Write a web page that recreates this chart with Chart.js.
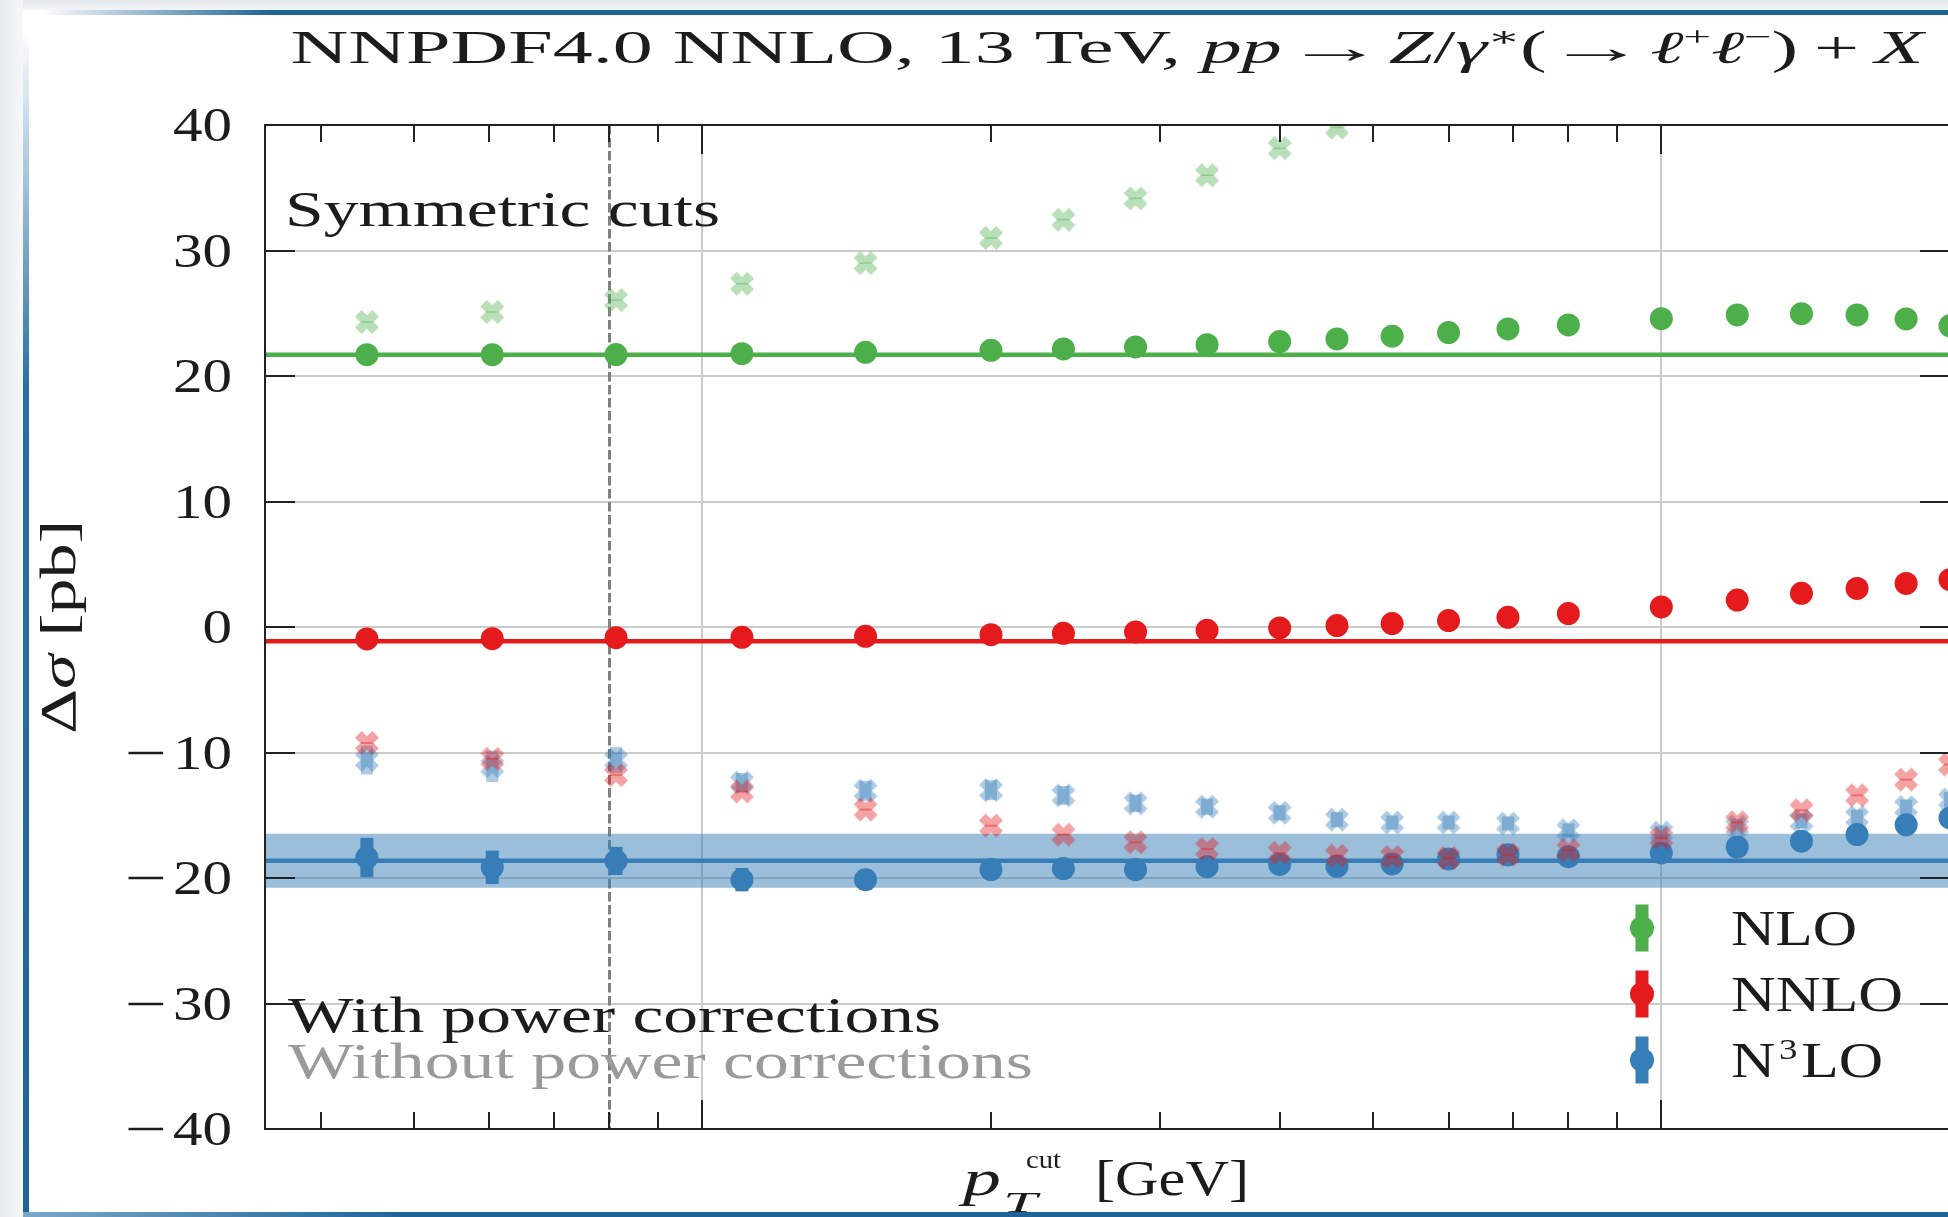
<!DOCTYPE html>
<html><head><meta charset="utf-8">
<script src="https://cdn.jsdelivr.net/npm/chart.js@4.4.1/dist/chart.umd.min.js"></script>
<style>
html,body{margin:0;padding:0;width:1948px;height:1217px;overflow:hidden;background:#fff;}
.deco{position:absolute;}
</style></head><body>
<div class="deco" style="left:0;top:0;width:1948px;height:10px;background:linear-gradient(#e3e8ec,#f3f5f7)"></div>
<div class="deco" style="left:0;top:0;width:23px;height:1217px;background:linear-gradient(to right,#e6eaee,#f6f7f8)"></div>
<div class="deco" style="left:40px;top:10px;width:1908px;height:5px;background:linear-gradient(to right,rgba(31,100,150,0),#1f6496 12%,#1f6496)"></div>
<div class="deco" style="left:23px;top:30px;width:6px;height:1187px;background:linear-gradient(to bottom,rgba(31,100,150,0),#2a6fa3 30%,#1f6496)"></div>
<div class="deco" style="left:23px;top:1212px;width:1925px;height:5px;background:linear-gradient(to right,#7aa7c9,#1f6496 20%,#1f6496)"></div>
<canvas id="c" width="1970" height="1217" style="position:absolute;left:0;top:0"></canvas>
<script>
// ---------------- data ----------------
const X_PT = [0.447, 0.604, 0.813, 1.10, 1.48, 2.00, 2.38, 2.83, 3.36, 4.00, 4.59, 5.24, 6.00, 6.92, 8.00, 10.0, 12.0, 14.0, 16.0, 18.0, 20.0];

const NLO_WITH      = [21.70, 21.70, 21.71, 21.78, 21.89, 22.05, 22.16, 22.32, 22.50, 22.74, 22.95, 23.17, 23.46, 23.75, 24.07, 24.57, 24.87, 24.97, 24.87, 24.55, 24.00];
const NLO_WITH_ERR  = [0.4, 0.4, 0.4, 0.4, 0.4, 0.4, 0.4, 0.4, 0.4, 0.4, 0.4, 0.4, 0.4, 0.4, 0.4, 0.4, 0.4, 0.4, 0.4, 0.4, 0.4];
const NLO_WITHOUT   = [24.3, 25.1, 26.05, 27.35, 29.0, 31.0, 32.45, 34.15, 36.0, 38.15, 39.8, null, null, null, null, null, null, null, null, null, null];
const NLO_WITHOUT_ERR = [0.06, 0.06, 0.06, 0.06, 0.06, 0.06, 0.06, 0.06, 0.06, 0.06, 0.06, 0.06, 0.06, 0.06, 0.06, 0.06, 0.06, 0.06, 0.06, 0.06, 0.06];

const NNLO_WITH     = [-0.95, -0.93, -0.85, -0.82, -0.74, -0.61, -0.50, -0.39, -0.26, -0.07, 0.11, 0.27, 0.51, 0.77, 1.07, 1.60, 2.15, 2.68, 3.07, 3.47, 3.77];
const NNLO_WITH_ERR = [0.4, 0.4, 0.4, 0.4, 0.4, 0.4, 0.4, 0.4, 0.4, 0.4, 0.4, 0.4, 0.4, 0.4, 0.4, 0.4, 0.4, 0.4, 0.4, 0.4, 0.4];
const NNLO_WITHOUT  = [-9.24, -10.5, -11.8, -13.1, -14.55, -15.83, -16.54, -17.15, -17.68, -18.0, -18.22, -18.32, -18.4, -18.14, -17.79, -16.8, -15.56, -14.6, -13.41, -12.16, -10.96];
const NNLO_WITHOUT_ERR = [0.08, 0.08, 0.08, 0.08, 0.08, 0.08, 0.08, 0.08, 0.08, 0.08, 0.08, 0.08, 0.08, 0.08, 0.08, 0.08, 0.08, 0.08, 0.08, 0.08, 0.08];

const N3LO_WITH     = [-18.37, -19.15, -18.64, -20.13, -20.13, -19.33, -19.25, -19.33, -19.1, -18.92, -19.07, -18.88, -18.48, -18.15, -18.3, -18.0, -17.53, -17.07, -16.54, -15.76, -15.21];
const N3LO_WITH_ERR = [1.57, 1.33, 1.12, 0.93, 0.8, 0.7, 0.65, 0.6, 0.55, 0.5, 0.5, 0.45, 0.45, 0.45, 0.4, 0.4, 0.4, 0.4, 0.4, 0.4, 0.4];
const N3LO_WITHOUT  = [-10.6, -11.1, -10.6, -12.4, -13.05, -13.0, -13.42, -14.05, -14.32, -14.8, -15.35, -15.58, -15.58, -15.66, -16.2, -16.38, -15.9, -15.45, -15.15, -14.35, -13.75];
const N3LO_WITHOUT_ERR = [1.15, 1.25, 1.05, 0.77, 0.8, 0.8, 0.75, 0.7, 0.65, 0.6, 0.6, 0.55, 0.55, 0.55, 0.55, 0.55, 0.6, 0.6, 0.6, 0.6, 0.6];

const NLO_REF = 21.7;
const NNLO_REF = -1.14;
const N3LO_REF = -18.62;
const N3LO_REF_UNC = 2.15;

const X_RANGE = [0.35, 20];
const Y_RANGE = [-40, 40];
const Y_TICKS = [-40, -30, -20, -10, 0, 10, 20, 30, 40];
const X_MAJOR = [1, 10];
const X_MINOR = [0.4, 0.5, 0.6, 0.7, 0.8, 0.9, 2, 3, 4, 5, 6, 7, 8, 9, 20];
const CUT_LINE = 0.8;

const TITLE = 'NNPDF4.0 NNLO, 13 TeV,';
const LEGEND_LABELS = ['NLO', 'NNLO', 'N3LO'];
const NOTE_TOP = 'Symmetric cuts';
const NOTE_WITH = 'With power corrections';
const NOTE_WITHOUT = 'Without power corrections';

// ---------------- style ----------------
const GREEN = '#4daf4a', RED = '#e41a1c', BLUE = '#377eb8';
const rgba = (hex, a) => { const n = parseInt(hex.slice(1), 16); return `rgba(${n>>16},${(n>>8)&255},${n&255},${a})`; };
const GRID = '#cbcbcb';
const INK = '#1c1c1c';
const FONT = '"Liberation Serif","DejaVu Serif",serif';

function makeX(color, s) {
  const c = document.createElement('canvas');
  c.width = c.height = s + 2;
  const g = c.getContext('2d');
  g.translate((s + 2) / 2, (s + 2) / 2);
  g.rotate(Math.PI / 4);
  const L = (s / 2) * Math.SQRT2 * 0.72, h = L / 2.6;
  g.beginPath();
  const P = [[-h,-L],[h,-L],[h,-h],[L,-h],[L,h],[h,h],[h,L],[-h,L],[-h,h],[-L,h],[-L,-h],[-h,-h]];
  P.forEach((p, i) => i ? g.lineTo(p[0], p[1]) : g.moveTo(p[0], p[1]));
  g.closePath();
  g.fillStyle = color;
  g.fill();
  return c;
}

const pts = ys => X_PT.map((x, i) => ({x, y: ys[i]}));
const hline = v => X_RANGE.map(x => ({x, y: v}));

function dotSet(label, ys, errs, color, order) {
  return {label, data: pts(ys), errorBars: errs, errColor: color, errWidth: 13,
    pointRadius: 11.5, pointBackgroundColor: color, pointBorderWidth: 0, pointBorderColor: color,
    showLine: false, order, clip: 0};
}
function xSet(label, ys, errs, color, order) {
  return {label, data: pts(ys), errorBars: errs, errColor: rgba(color, 0.4), errWidth: 12,
    pointStyle: makeX(rgba(color, 0.4), 24), pointRadius: 12,
    showLine: false, order, clip: 0};
}
function lineSet(label, v, color, order) {
  return {label, data: hline(v), showLine: true, borderColor: color, borderWidth: 4.5,
    pointRadius: 0, fill: false, order, clip: 0};
}

const datasets = [
  {label: 'band+', data: hline(N3LO_REF + N3LO_REF_UNC), showLine: true, borderWidth: 0, borderColor: 'rgba(0,0,0,0)',
   pointRadius: 0, fill: '+1', backgroundColor: rgba(BLUE, 0.5), order: 50, clip: 0},
  {label: 'band-', data: hline(N3LO_REF - N3LO_REF_UNC), showLine: true, borderWidth: 0, borderColor: 'rgba(0,0,0,0)',
   pointRadius: 0, fill: false, order: 51, clip: 0},
  lineSet('NLO ref', NLO_REF, GREEN, 40),
  lineSet('NNLO ref', NNLO_REF, RED, 39),
  lineSet('N3LO ref', N3LO_REF, BLUE, 38),
  dotSet('NLO', NLO_WITH, NLO_WITH_ERR, GREEN, 30),
  dotSet('NNLO', NNLO_WITH, NNLO_WITH_ERR, RED, 29),
  dotSet('N3LO', N3LO_WITH, N3LO_WITH_ERR, BLUE, 28),
  xSet('N3LO no pc', N3LO_WITHOUT, N3LO_WITHOUT_ERR, BLUE, 21),
  xSet('NNLO no pc', NNLO_WITHOUT, NNLO_WITHOUT_ERR, RED, 20),
  xSet('NLO no pc', NLO_WITHOUT, NLO_WITHOUT_ERR, GREEN, 19),
];

// ---------------- text helper ----------------
function fnt(s, base) { return (s.it ? 'italic ' : '') + (s.size || base) + 'px ' + FONT; }
function drawRich(ctx, segs, ax, ay, o) {
  ctx.save();
  ctx.translate(ax, ay);
  if (o.rot) ctx.rotate(o.rot);
  ctx.textAlign = 'left'; ctx.textBaseline = 'alphabetic';
  const ws = segs.map(s => { if (s.gap !== undefined) return s.gap; ctx.font = fnt(s, o.size); return ctx.measureText(s.t).width * (s.k || 1); });
  const nat = ws.reduce((a, b) => a + b, 0);
  const sx = o.width ? o.width / nat : (o.sx || 1);
  const off = o.align === 'center' ? -nat * sx / 2 : (o.align === 'right' ? -nat * sx : 0);
  ctx.translate(off, 0);
  ctx.scale(sx, 1);
  ctx.fillStyle = o.color || INK;
  let cx = 0;
  segs.forEach((s, i) => {
    if (s.gap === undefined) {
      ctx.font = fnt(s, o.size);
      ctx.save(); ctx.translate(cx, -(s.dy || 0)); ctx.scale(s.k || 1, 1); ctx.fillText(s.t, 0, 0); ctx.restore();
    }
    cx += ws[i];
  });
  ctx.restore();
}

// ---------------- plugin ----------------
const deco = {
  id: 'deco',
  beforeDatasetsDraw(chart) {
    const {ctx, chartArea: a, scales: {x}} = chart;
    ctx.save();
    ctx.strokeStyle = '#808080'; ctx.lineWidth = 3; ctx.setLineDash([9.5, 3.5]);
    const p = Math.round(x.getPixelForValue(CUT_LINE)) + 0.5;
    ctx.beginPath(); ctx.moveTo(p, a.top); ctx.lineTo(p, a.bottom); ctx.stroke();
    ctx.restore();
  },
  beforeDatasetDraw(chart, args) {
    const ds = chart.data.datasets[args.index];
    if (!ds.errorBars) return;
    const {ctx, chartArea: a, scales: {x, y}} = chart;
    ctx.save();
    ctx.beginPath(); ctx.rect(a.left, a.top, a.right - a.left, a.bottom - a.top); ctx.clip();
    ctx.fillStyle = ds.errColor;
    ds.data.forEach((d, i) => {
      if (d.y === null || d.y === undefined) return;
      const e = ds.errorBars[i];
      const px = x.getPixelForValue(d.x);
      const y1 = y.getPixelForValue(d.y + e), y2 = y.getPixelForValue(d.y - e);
      ctx.fillRect(px - ds.errWidth / 2, y1, ds.errWidth, y2 - y1);
    });
    ctx.restore();
  },
  afterDatasetsDraw(chart) {
    const {ctx, chartArea: a, scales: {x, y}} = chart;
    ctx.save();
    ctx.strokeStyle = '#222'; ctx.lineWidth = 2;
    ctx.beginPath();
    X_MINOR.forEach(v => { const p = Math.round(x.getPixelForValue(v));
      ctx.moveTo(p, a.bottom); ctx.lineTo(p, a.bottom - 17); ctx.moveTo(p, a.top); ctx.lineTo(p, a.top + 17); });
    X_MAJOR.forEach(v => { const p = Math.round(x.getPixelForValue(v));
      ctx.moveTo(p, a.bottom); ctx.lineTo(p, a.bottom - 29); ctx.moveTo(p, a.top); ctx.lineTo(p, a.top + 29); });
    Y_TICKS.forEach(v => { const p = Math.round(y.getPixelForValue(v));
      ctx.moveTo(a.left, p); ctx.lineTo(a.left + 30, p); ctx.moveTo(a.right, p); ctx.lineTo(a.right - 30, p); });
    ctx.stroke();
    ctx.strokeRect(a.left, a.top, a.right - a.left, a.bottom - a.top);
    ctx.restore();
  },
  afterDraw(chart) {
    const {ctx, scales: {y}} = chart;
    // y tick labels
    Y_TICKS.forEach(v => {
      const p = y.getPixelForValue(v);
      drawRich(ctx, [{t: String(Math.abs(v))}], 232, p + 16, {size: 48, sx: 1.23, align: 'right'});
      if (v < 0) drawRich(ctx, [{t: '\u2212'}], 145.5, p + 16, {size: 48, sx: 1.55, align: 'center'});
    });
    // title
    drawRich(ctx, [
      {t: TITLE}, {gap: 12}, {t: 'pp', it: 1}, {gap: 2}, {t: '\u2192', k: 1.25}, {gap: 2},
      {t: 'Z', it: 1}, {t: '/'}, {t: '\u03b3', it: 1}, {t: '\u2217', size: 28, dy: 17}, {t: '('},
      {t: '\u2192', k: 1.25}, {gap: 2}, {t: '\u2113', it: 1}, {t: '+', size: 28, dy: 17},
      {t: '\u2113', it: 1}, {t: '\u2212', size: 28, dy: 17}, {t: ')'}, {gap: 9}, {t: '+'}, {gap: 9}, {t: 'X', it: 1}
    ], 1107, 63, {size: 46, width: 1633, align: 'center'});
    // axis labels
    drawRich(ctx, [{t: 'p', it: 1}], 963, 1195, {size: 50, width: 38});
    drawRich(ctx, [{t: 'T', it: 1}], 1003, 1212, {size: 30, width: 34});
    drawRich(ctx, [{t: 'cut'}], 1026, 1168, {size: 26, width: 35});
    drawRich(ctx, [{t: '[GeV]'}], 1095, 1195, {size: 50, width: 154});
    drawRich(ctx, [{t: '\u0394'}, {t: '\u03c3', it: 1}, {t: ' [pb]'}], 75, 627, {size: 50, width: 214, align: 'center', rot: -Math.PI / 2});
    // annotations
    drawRich(ctx, [{t: NOTE_TOP}], 285, 226, {size: 50, width: 435});
    drawRich(ctx, [{t: NOTE_WITH}], 288, 1032, {size: 50, width: 653});
    drawRich(ctx, [{t: NOTE_WITHOUT}], 288, 1078, {size: 50, width: 745, color: '#9a9a9a'});
    // legend
    const cols = [GREEN, RED, BLUE];
    const cys = [928, 994, 1060];
    const widths = [126, 172, 152];
    LEGEND_LABELS.forEach((lab, i) => {
      ctx.save();
      ctx.fillStyle = cols[i];
      ctx.fillRect(1642 - 6.5, cys[i] - 23.5, 13, 47);
      ctx.beginPath(); ctx.arc(1642, cys[i], 12, 0, Math.PI * 2); ctx.fill();
      ctx.restore();
      const segs = lab === 'N3LO' ? [{t: 'N'}, {gap: 3}, {t: '3', size: 30, dy: 18}, {gap: 3}, {t: 'LO'}] : [{t: lab}];
      drawRich(ctx, segs, 1731, cys[i] + 17, {size: 50, width: widths[i]});
    });
  }
};

new Chart(document.getElementById('c'), {
  type: 'scatter',
  data: {datasets},
  options: {
    responsive: false, animation: false, devicePixelRatio: 1, events: [],
    layout: {padding: {left: 265, top: 125, right: 20, bottom: 88}},
    plugins: {legend: {display: false}, title: {display: false}, tooltip: {enabled: false}},
    scales: {
      x: {type: 'logarithmic', min: X_RANGE[0], max: X_RANGE[1],
        afterBuildTicks: s => { s.ticks = X_MAJOR.concat(X_MINOR).sort((a, b) => a - b).map(v => ({value: v, major: X_MAJOR.includes(v)})); },
        afterFit: s => { s.height = 0; },
        ticks: {display: false},
        border: {display: false},
        grid: {drawTicks: false, lineWidth: 2, color: c => (c.tick && X_MAJOR.includes(c.tick.value)) ? GRID : 'rgba(0,0,0,0)'}},
      y: {min: Y_RANGE[0], max: Y_RANGE[1],
        afterBuildTicks: s => { s.ticks = Y_TICKS.map(v => ({value: v})); },
        afterFit: s => { s.width = 0; },
        ticks: {display: false},
        border: {display: false},
        grid: {drawTicks: false, lineWidth: 2, color: GRID}}
    }
  },
  plugins: [deco]
});
</script>
</body></html>
